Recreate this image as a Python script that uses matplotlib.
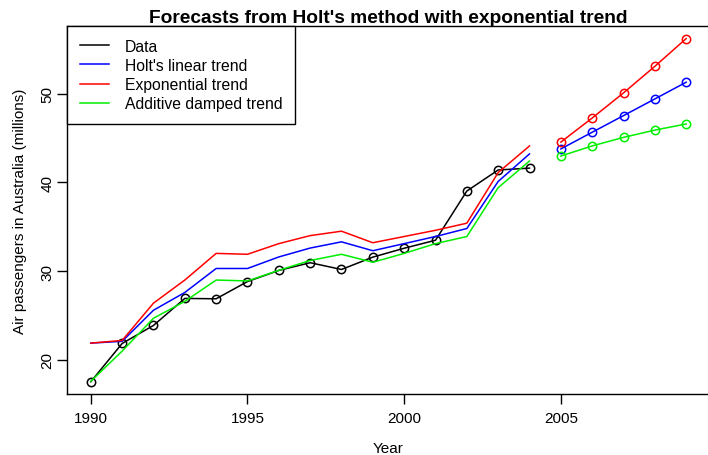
import matplotlib
matplotlib.use("Agg")
import matplotlib.pyplot as plt
from matplotlib.lines import Line2D

plt.rcParams['font.family'] = ['Liberation Sans', 'DejaVu Sans']

# air passenger data and fitted values
years = list(range(1990, 2005))
data = [17.55, 21.86, 23.89, 26.93, 26.89, 28.83, 30.08, 30.95, 30.19,
        31.58, 32.58, 33.48, 39.02, 41.39, 41.60]
holt_fit = [21.9, 22.1, 25.6, 27.6, 30.3, 30.3, 31.6, 32.6, 33.3,
            32.3, 33.1, 33.9, 34.8, 40.1, 43.2]
exp_fit = [21.9, 22.2, 26.4, 29.0, 32.0, 31.9, 33.1, 34.0, 34.5,
           33.2, 33.9, 34.6, 35.4, 41.1, 44.1]
damped_fit = [17.6, 21.0, 24.7, 26.6, 29.0, 28.9, 30.1, 31.2, 31.9,
              31.0, 32.0, 33.1, 33.9, 39.4, 42.4]

# five year forecasts
fc_years = list(range(2005, 2010))
holt_fc = [43.76, 45.64, 47.51, 49.39, 51.27]
exp_fc = [44.53, 47.24, 50.07, 53.06, 56.19]
damped_fc = [42.96, 44.10, 45.06, 45.88, 46.57]

legend_labels = ["Data", "Holt's linear trend", "Exponential trend",
                 "Additive damped trend"]
colors = ["black", "blue", "red", "#00ee00"]

W, H = 708, 456
fig = plt.figure(figsize=(W / 100, H / 100), dpi=100)
ax = fig.add_axes([67 / W, (H - 395) / H, (710 - 67) / W, (395 - 27) / H])

lw = 1.1
ms = 6
ax.plot(years, data, color="black", lw=lw, marker="o", ms=ms, mfc="none", mew=lw)
ax.plot(years, holt_fit, color=colors[1], lw=lw)
ax.plot(years, exp_fit, color=colors[2], lw=lw)
ax.plot(years, damped_fit, color=colors[3], lw=lw)

ax.plot(fc_years, holt_fc, color=colors[1], lw=lw, marker="o", ms=ms, mfc="none", mew=lw)
ax.plot(fc_years, exp_fc, color=colors[2], lw=lw, marker="o", ms=ms, mfc="none", mew=lw)
ax.plot(fc_years, damped_fc, color=colors[3], lw=lw, marker="o", ms=ms, mfc="none", mew=lw)

ax.set_xlim(1989.24, 2009.76)
ax.set_ylim(16.17, 57.6)
ax.set_xticks([1990, 1995, 2000, 2005])
ax.set_yticks([20, 30, 40, 50])
ax.tick_params(direction="out", length=7, width=1, labelsize=11)
ax.tick_params(axis="x", pad=5)
ax.tick_params(axis="y", pad=2)
for lab in ax.get_yticklabels():
    lab.set_rotation(90)
    lab.set_va("center")
for sp in ax.spines.values():
    sp.set_linewidth(1)

ax.set_xlabel("Year", fontsize=11, labelpad=12)
ax.set_ylabel("Air passengers in Australia (millions)", fontsize=11, labelpad=10)
ax.set_title("Forecasts from Holt's method with exponential trend",
             fontsize=13.75, fontweight="bold", pad=2.5)

handles = [Line2D([0], [0], color=c, lw=lw) for c in colors]
leg = ax.legend(handles, legend_labels, loc="upper left", bbox_to_anchor=(0, 1),
                borderaxespad=0, fancybox=False, framealpha=1, edgecolor="black",
                fontsize=11.3, handlelength=1.9, handletextpad=1.0,
                labelspacing=0.27, borderpad=0.8)
leg.get_frame().set_linewidth(1)

fig.savefig("out.png", dpi=100)
